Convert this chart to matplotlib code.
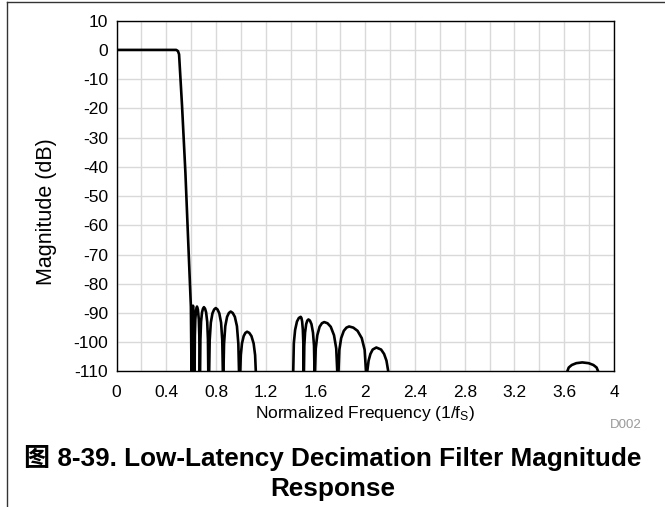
import numpy as np
import matplotlib
matplotlib.use("Agg")
import matplotlib.pyplot as plt
from matplotlib.lines import Line2D

plt.rcParams['font.family'] = ['Liberation Sans', 'Noto Sans CJK SC', 'DejaVu Sans']
plt.rcParams['mathtext.default'] = 'regular'
plt.rcParams['axes.unicode_minus'] = False

# ---- data (normalized freq, dB) ----
# passband + transition + first stopband group
group1_f = [0.0, 0.48, 0.494, 0.503, 0.527, 0.554, 0.576, 0.598, 0.603,
            0.604, 0.607, 0.615, 0.623, 0.626,
            0.628, 0.6299, 0.6337, 0.6404, 0.647, 0.6543, 0.6617, 0.6659, 0.668,
            0.672, 0.6745, 0.6798, 0.6875, 0.6953, 0.703, 0.7118, 0.7205, 0.7293, 0.7352, 0.738,
            0.745, 0.7492, 0.7583, 0.7715, 0.7848, 0.798, 0.8123, 0.8265, 0.8408, 0.8504, 0.855,
            0.860, 0.8646, 0.8745, 0.889, 0.9035, 0.918, 0.9348, 0.9515, 0.9683, 0.9796, 0.985,
            0.995, 0.9994, 1.0088, 1.0225, 1.0363, 1.050, 1.0675, 1.085, 1.1025, 1.1144, 1.120]
group1_db = [0.0, 0.0, -0.4, -1.5, -19.2, -42.0, -65.0, -87.8, -110.0,
             -110.0, -91.8, -87.5, -91.8, -110.0,
             -110.0, -97.8, -92.1, -88.8, -87.8, -88.8, -92.1, -97.8, -110.0,
             -110.0, -99.0, -93.0, -89.8, -88.5, -88.0, -88.5, -89.8, -93.0, -99.0, -110.0,
             -110.0, -99.3, -93.3, -90.1, -88.8, -88.3, -88.8, -90.1, -93.3, -99.3, -110.0,
             -110.0, -100.5, -94.5, -91.3, -90.0, -89.5, -90.0, -91.3, -94.5, -100.5, -110.0,
             -110.0, -104.4, -100.4, -97.9, -96.8, -96.4, -96.8, -97.9, -100.4, -104.4, -110.0]

# second stopband group
group2_f = [1.421, 1.4258, 1.436, 1.451, 1.466, 1.481, 1.4868, 1.4925, 1.4983, 1.5022, 1.504,
            1.507, 1.5099, 1.516, 1.525, 1.534, 1.543, 1.5553, 1.5675, 1.5798, 1.5881, 1.592,
            1.596, 1.6019, 1.6145, 1.633, 1.6515, 1.670, 1.6963, 1.7225, 1.7488, 1.7666, 1.775,
            1.785, 1.7918, 1.8063, 1.8275, 1.8488, 1.870, 1.904, 1.938, 1.972, 1.9951, 2.006,
            2.016, 2.027, 2.0416, 2.0598, 2.089, 2.1274, 2.1514, 2.1706, 2.185]
group2_db = [-110.0, -100.3, -95.8, -92.9, -91.7, -91.3, -91.7, -92.9, -95.8, -100.3, -110.0,
             -110.0, -101.2, -96.7, -93.8, -92.6, -92.2, -92.6, -93.8, -96.7, -101.2, -110.0,
             -110.0, -102.1, -97.6, -94.7, -93.5, -93.1, -93.5, -94.7, -97.6, -102.1, -110.0,
             -110.0, -102.6, -98.6, -96.1, -95.0, -94.6, -95.0, -96.1, -98.6, -102.6, -110.0,
             -110.0, -106.3, -104.0, -102.5, -101.8, -102.5, -104.0, -106.3, -110.0]

# image lobe near 3.75
group3_f = [3.624, 3.6361, 3.6603, 3.6966, 3.745, 3.7962, 3.8346, 3.8602, 3.873]
group3_db = [-110.0, -108.65, -107.79, -107.16, -106.9, -107.16, -107.79, -108.65, -110.0]

x_ticks = [0, 0.4, 0.8, 1.2, 1.6, 2.0, 2.4, 2.8, 3.2, 3.6, 4.0]
x_tick_labels = ['0', '0.4', '0.8', '1.2', '1.6', '2', '2.4', '2.8', '3.2', '3.6', '4']
y_ticks = list(range(-110, 11, 10))

# ---- figure ----
fig = plt.figure(figsize=(6.65, 5.07), dpi=100)
ax = fig.add_axes([0.1752, 0.2673, 0.7481, 0.6919])

for f, db in [(group1_f, group1_db), (group2_f, group2_db), (group3_f, group3_db)]:
    ax.plot(f, db, color='black', lw=1.9, solid_joinstyle='round', zorder=3)

ax.set_xlim(0, 4)
ax.set_ylim(-110, 10)
ax.set_xticks(x_ticks)
ax.set_xticklabels(x_tick_labels)
ax.set_xticks(np.arange(0.2, 4.0, 0.4), minor=True)
ax.set_yticks(y_ticks)
ax.grid(True, which='both', color='#d9d9d9', lw=1.0, zorder=0)
ax.tick_params(which='both', length=0, labelsize=12.5)
ax.tick_params(axis='x', pad=10)
ax.tick_params(axis='y', pad=6)
for s in ax.spines.values():
    s.set_linewidth(1.0)
    s.set_color('black')

ax.set_ylabel('Magnitude (dB)', fontsize=15.5)
ax.yaxis.set_label_coords(-0.12, 0.455)
ax.set_xlabel('Normalized Frequency (1/f$_{S}$)', fontsize=12.5)
ax.xaxis.set_label_coords(0.5, -0.093)

fig.text(0.965, 0.162, 'D002', fontsize=9.5, color='#9a9a9a', ha='right', va='center')

fig.text(0.5, 0.096, '图 8-39. Low-Latency Decimation Filter Magnitude',
         fontsize=18.8, fontweight='bold', ha='center', va='center')
fig.text(0.5, 0.036, 'Response', fontsize=18.8, fontweight='bold', ha='center', va='center')

# page frame (top and left edges)
fig.add_artist(Line2D([7.3 / 665, 1.0], [1 - 2.3 / 507, 1 - 2.3 / 507],
                      transform=fig.transFigure, color='#333333', lw=1.0))
fig.add_artist(Line2D([7.3 / 665, 7.3 / 665], [0.0, 1 - 2.3 / 507],
                      transform=fig.transFigure, color='#333333', lw=1.0))

fig.savefig('out.png', dpi=100)
